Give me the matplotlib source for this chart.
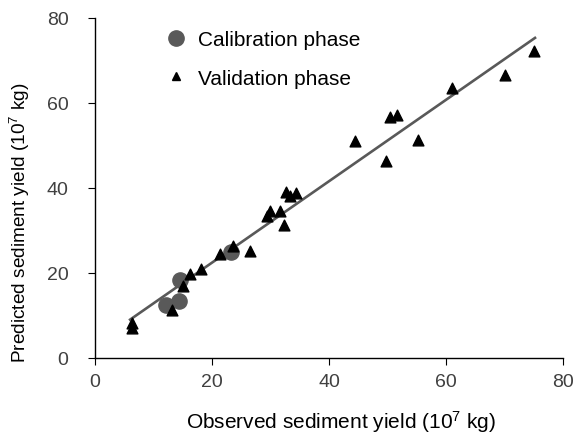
import numpy as np
import matplotlib
matplotlib.use("Agg")
import matplotlib.pyplot as plt
from matplotlib.lines import Line2D

plt.rcParams['font.family'] = ['Liberation Sans', 'DejaVu Sans']
plt.rcParams['mathtext.fontset'] = 'custom'
plt.rcParams['mathtext.rm'] = 'Liberation Sans'
plt.rcParams['mathtext.it'] = 'Liberation Sans'

# calibration phase (observed, predicted), 10^7 kg
cal_obs = [12.1, 14.4, 14.6, 23.3]
cal_pred = [12.5, 13.5, 18.4, 25.0]

# validation phase
val_obs = [6.3, 6.4, 13.1, 15.1, 16.2, 18.1, 21.3, 23.6, 26.5, 29.4, 29.9, 31.6,
           32.3, 32.6, 33.4, 34.3, 44.5, 49.7, 50.5, 51.6, 55.2, 61.0, 70.0, 75.0]
val_pred = [7.0, 8.2, 11.3, 16.8, 19.8, 20.8, 24.4, 26.3, 25.1, 33.3, 34.5, 34.5,
            31.2, 39.0, 38.2, 38.9, 51.0, 46.3, 56.8, 57.2, 51.3, 63.6, 66.6, 72.3]

# fitted line end points
fit_x = [6.0, 75.2]
fit_y = [9.0, 75.3]

fig = plt.figure(figsize=(5.74, 4.35), dpi=100)
ax = fig.add_axes([0.1655, 0.175, 0.8155, 0.7815])

ax.plot(fit_x, fit_y, color='#595959', lw=1.9, zorder=2)
ax.scatter(cal_obs, cal_pred, s=120, color='#595959', marker='o', zorder=3)
ax.scatter(val_obs, val_pred, s=60, color='black', marker='^', zorder=4)

ax.set_xlim(0, 80)
ax.set_ylim(0, 80)
ax.set_xticks([0, 20, 40, 60, 80])
ax.set_yticks([0, 20, 40, 60, 80])
for s in ['top', 'right']:
    ax.spines[s].set_visible(False)
ax.spines['left'].set_linewidth(1.0)
ax.spines['bottom'].set_linewidth(1.0)
ax.tick_params(direction='out', length=5, labelsize=14, labelcolor='#404040')
ax.tick_params(axis='y', pad=14)
ax.tick_params(axis='x', pad=6)

ax.set_xlabel('Observed sediment yield (10$^{7}$ kg)', fontsize=15)
ax.set_ylabel('Predicted sediment yield (10$^{7}$ kg)', fontsize=13.7)
ax.xaxis.set_label_coords(0.526, -0.148)
ax.yaxis.set_label_coords(-0.135, 0.40)

handles = [Line2D([], [], ls='none', marker='o', color='#595959', markersize=11),
           Line2D([], [], ls='none', marker='^', color='black', markersize=6)]
ax.legend(handles, ['Calibration phase', 'Validation phase'], frameon=False,
          fontsize=15, loc='upper left', bbox_to_anchor=(0.1, 1.02),
          handletextpad=0.3, labelspacing=0.95, handlelength=1.5)

fig.savefig('out.png', dpi=100)
